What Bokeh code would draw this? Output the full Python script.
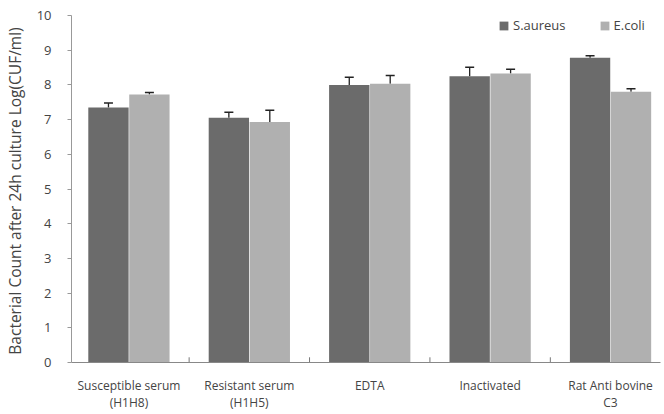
from bokeh.plotting import figure
from bokeh.models import ColumnDataSource, Range1d, Whisker, Legend, LegendItem, FixedTicker
from bokeh.embed import file_html
from bokeh.resources import INLINE

categories = ["Susceptible serum\n(H1H8)", "Resistant serum\n(H1H5)", "EDTA", "Inactivated", "Rat Anti bovine\nC3"]
saureus = [7.35, 7.05, 8.0, 8.25, 8.78]
saureus_err = [0.13, 0.16, 0.22, 0.26, 0.06]
ecoli = [7.72, 6.93, 8.03, 8.33, 7.8]
ecoli_err = [0.06, 0.34, 0.24, 0.12, 0.09]
y_ticks = [0, 1, 2, 3, 4, 5, 6, 7, 8, 9, 10]

FONT = "Open Sans"
TXT = "#444444"
DODGE = 0.17
BW = 0.335

idx = list(range(len(categories)))
src = ColumnDataSource(dict(
    xs=[i - DODGE for i in idx], xe=[i + DODGE for i in idx],
    s=saureus, e=ecoli,
    s_up=[v + d for v, d in zip(saureus, saureus_err)],
    e_up=[v + d for v, d in zip(ecoli, ecoli_err)],
))
bsrc = ColumnDataSource(dict(xb=[i + 0.5 for i in idx[:-1]], y0=[0] * (len(idx) - 1), y1=[0.15] * (len(idx) - 1)))

p = figure(width=664, height=413, output_backend="svg", toolbar_location=None,
           x_range=Range1d(-0.477, 4.415), y_range=Range1d(0, 10),
           min_border_left=70, min_border_right=4, min_border_top=15, min_border_bottom=30)
p.outline_line_color = None
p.xgrid.visible = False
p.ygrid.visible = False

rs = p.vbar(x="xs", top="s", width=BW, source=src, fill_color="#6b6b6b", line_color=None)
re = p.vbar(x="xe", top="e", width=BW, source=src, fill_color="#b0b0b0", line_color=None)

for xcol, lo, hi in (("xs", "s", "s_up"), ("xe", "e", "e_up")):
    w = Whisker(source=src, base=xcol, lower=lo, upper=hi, line_color="#222222", line_width=1.3)
    w.lower_head = None
    w.upper_head.size = 9
    w.upper_head.line_color = "#222222"
    w.upper_head.line_width = 1.5
    p.add_layout(w)

p.segment(x0="xb", x1="xb", y0="y0", y1="y1", source=bsrc, line_color="#777777", line_width=1)

p.yaxis.ticker = FixedTicker(ticks=y_ticks)
p.yaxis.minor_tick_line_color = None
p.yaxis.major_tick_out = 4
p.yaxis.major_tick_in = 0
p.yaxis.axis_line_color = "#999999"
p.yaxis.major_tick_line_color = "#999999"
p.yaxis.major_label_standoff = 16
p.yaxis.major_label_text_font = FONT
p.yaxis.major_label_text_font_size = "13px"
p.yaxis.major_label_text_color = TXT
p.yaxis.axis_label = "Bacterial Count  after 24h culture Log(CUF/ml)"
p.yaxis.axis_label_text_font = FONT
p.yaxis.axis_label_text_font_size = "15.5px"
p.yaxis.axis_label_text_font_style = "normal"
p.yaxis.axis_label_text_color = TXT
p.yaxis.axis_label_standoff = 8

p.xaxis.ticker = FixedTicker(ticks=idx)
p.xaxis.major_label_overrides = {i: c for i, c in zip(idx, categories)}
p.xaxis.major_tick_line_color = None
p.xaxis.minor_tick_line_color = None
p.xaxis.axis_line_color = "#888888"
p.xaxis.major_label_standoff = 8
p.xaxis.major_label_text_font = FONT
p.xaxis.major_label_text_font_size = "12px"
p.xaxis.major_label_text_line_height = 1.0
p.xaxis.major_label_text_color = TXT

legend = Legend(items=[LegendItem(label="S.aureus", renderers=[rs]), LegendItem(label="E.coli", renderers=[re])],
                orientation="horizontal", location=(427, 328),
                glyph_width=11, glyph_height=11, label_text_font=FONT, label_text_font_size="13px",
                label_text_color=TXT, border_line_color=None, background_fill_alpha=0,
                padding=0, spacing=33, label_standoff=4, margin=0, label_height=14)
p.add_layout(legend)

open("out.html", "w").write(file_html(p, INLINE))
